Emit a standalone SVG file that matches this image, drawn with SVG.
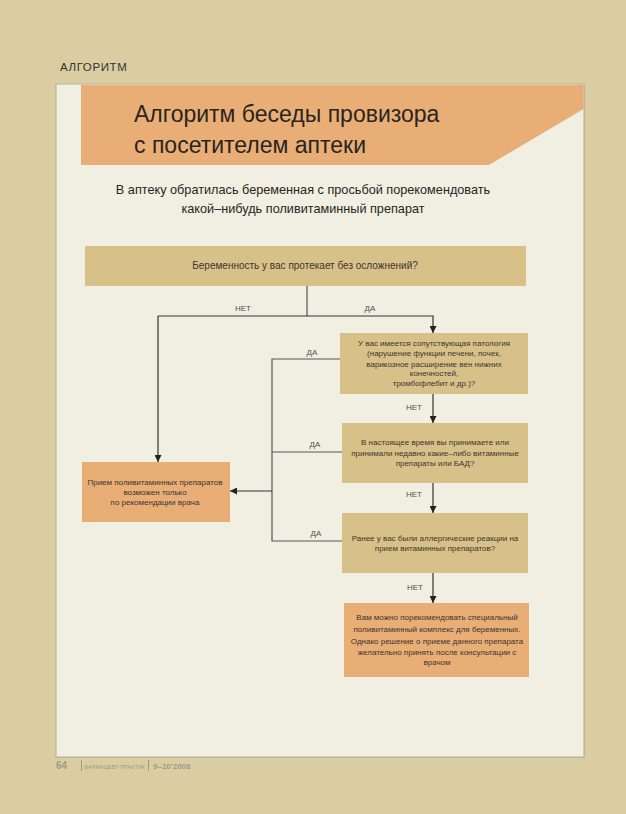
<svg xmlns="http://www.w3.org/2000/svg" width="626" height="814" viewBox="0 0 626 814">
<defs>
<marker id="arr" viewBox="0 0 10 10" refX="10" refY="5" markerWidth="7" markerHeight="7" markerUnits="userSpaceOnUse" orient="auto">
<path d="M0,0 L10,5 L0,10 z" fill="#222"/>
</marker>
</defs>
<style>
text{font-family:"Liberation Sans","DejaVu Sans",sans-serif;}
.q{fill:#D8C189;}
.o{fill:#E8AE76;}
.t{fill:#3a3530;font-size:8px;text-anchor:middle;}
.lbl{fill:#55504a;font-size:8px;text-anchor:middle;}
.c{fill:none;stroke:#555;stroke-width:1.2;}
.ca{fill:none;stroke:#333;stroke-width:1.2;marker-end:url(#arr);}
</style>
<rect x="0" y="0" width="626" height="814" fill="#DBCDA2"/>
<text x="60" y="71" font-size="11.5" fill="#333" letter-spacing="0.6">АЛГОРИТМ</text>
<rect x="57" y="85" width="528" height="673" fill="#B8B09A" opacity="0.6"/>
<rect x="56" y="84" width="528" height="673" fill="#F0EFE2" stroke="#B5AE98" stroke-width="1"/>
<g id="title">
<polygon points="81,85 583.5,85 583.5,109 489,165 81,165" fill="#E8AE76"/>
<text x="134" y="122" font-size="23" fill="#2a2420">Алгоритм беседы провизора</text>
<text x="134" y="153" font-size="23" fill="#2a2420">с посетителем аптеки</text>
</g>
<g id="intro">
<text x="303" y="194" font-size="12.7" fill="#2a2420" text-anchor="middle">В аптеку обратилась беременная с просьбой порекомендовать</text>
<text x="303" y="213" font-size="12.7" fill="#2a2420" text-anchor="middle">какой–нибудь поливитаминный препарат</text>
</g>
<g id="connectors">
<polyline class="c" points="307,286 307,316"/>
<polyline class="ca" points="158,316 433,316 433,333"/>
<polyline class="ca" points="158,316 158,462"/>
<polyline class="c" points="340,359 272,359 272,541 342,541"/>
<polyline class="c" points="272,452 342,452"/>
<polyline class="ca" points="272,491 230,491"/>
<polyline class="ca" points="433,394 433,423"/>
<polyline class="ca" points="433,483 433,513"/>
<polyline class="ca" points="433,573 433,603"/>
<text class="lbl" x="243" y="311">НЕТ</text>
<text class="lbl" x="370" y="311">ДА</text>
<text class="lbl" x="312" y="355">ДА</text>
<text class="lbl" x="315" y="447">ДА</text>
<text class="lbl" x="316" y="536">ДА</text>
<text class="lbl" x="414" y="410">НЕТ</text>
<text class="lbl" x="414" y="497">НЕТ</text>
<text class="lbl" x="415" y="590">НЕТ</text>
</g>
<g id="q1">
<rect class="q" x="85" y="246" width="441" height="40"/>
<text x="305" y="269" font-size="10" fill="#3a3530" text-anchor="middle">Беременность у вас протекает без осложнений?</text>
</g>
<g id="q2">
<rect class="q" x="340" y="333" width="188" height="61"/>
<text class="t" x="434" y="346">У вас имеется сопутствующая патология</text>
<text class="t" x="434" y="356">(нарушение функции печени, почек,</text>
<text class="t" x="434" y="367">варикозное расширение вен нижних</text>
<text class="t" x="434" y="376">конечностей,</text>
<text class="t" x="434" y="386">тромбофлебит и др.)?</text>
</g>
<g id="q3">
<rect class="q" x="342" y="423" width="186" height="60"/>
<text class="t" x="435" y="445">В настоящее время вы принимаете или</text>
<text class="t" x="435" y="456">принимали недавно какие–либо витаминные</text>
<text class="t" x="435" y="466">препараты или БАД?</text>
</g>
<g id="q4">
<rect class="q" x="342" y="513" width="186" height="60"/>
<text class="t" x="435" y="541">Ранее у вас были аллергические реакции на</text>
<text class="t" x="435" y="551">прием витаминных препаратов?</text>
</g>
<g id="doctor">
<rect class="o" x="82" y="462" width="148" height="60"/>
<text class="t" x="155" y="485">Прием поливитаминных препаратов</text>
<text class="t" x="155" y="495">возможен только</text>
<text class="t" x="155" y="505">по рекомендации врача</text>
</g>
<g id="recommend">
<rect class="o" x="344" y="603" width="185" height="74"/>
<text class="t" x="437" y="620">Вам можно порекомендовать специальный</text>
<text class="t" x="437" y="632">поливитаминный комплекс для беременных.</text>
<text class="t" x="437" y="644">Однако решение о приеме данного препарата</text>
<text class="t" x="437" y="655">желательно принять после консультации с</text>
<text class="t" x="437" y="665">врачом</text>
</g>
<g id="footer" fill="#A09A85">
<text x="56" y="769" font-size="10" font-weight="bold">64</text>
<rect x="81" y="760" width="1" height="11"/>
<text x="84" y="769" font-size="6" textLength="61" lengthAdjust="spacingAndGlyphs">ФАРМАЦЕВТ-ПРАКТИК</text>
<rect x="148" y="760" width="1" height="11"/>
<text x="153" y="769" font-size="8" font-weight="bold">9–10'2008</text>
</g>
</svg>
